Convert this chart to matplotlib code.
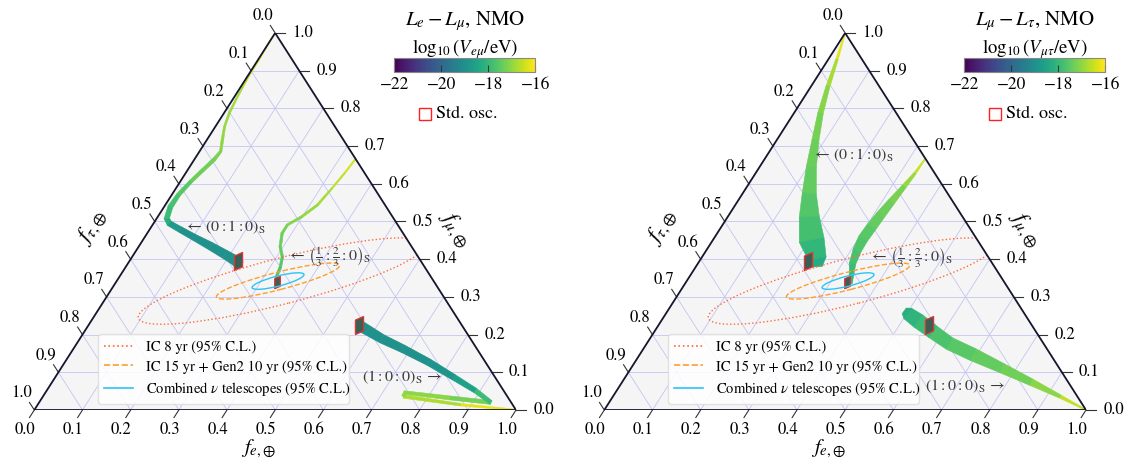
import numpy as np
import matplotlib.pyplot as plt
from matplotlib.collections import PolyCollection
from matplotlib.patches import Ellipse, Polygon
from matplotlib.lines import Line2D
from matplotlib import colors, cm

plt.rcParams['font.family'] = 'STIXGeneral'
plt.rcParams['mathtext.fontset'] = 'stix'

W, H = 1126, 461
R3 = np.sqrt(3) / 2
SX, SY = 481.7, 377 / R3   # px per cartesian unit

# ---- data (flavor fractions f_e, f_mu; colour = log10 V; band width in px) ----
ticks = np.round(np.arange(0, 1.01, 0.1), 1)

# L_e - L_mu panel
le_a_fe = [0.0, 0.0, 0.002, 0.002, 0.004, 0.007, 0.011, 0.019, 0.032, 0.044, 0.041, 0.032, 0.022, 0.014, 0.013, 0.021, 0.033, 0.063, 0.103, 0.148, 0.189, 0.220, 0.234]
le_a_fmu = [1.0, 0.965, 0.930, 0.894, 0.859, 0.823, 0.788, 0.752, 0.717, 0.686, 0.664, 0.637, 0.606, 0.571, 0.539, 0.508, 0.495, 0.479, 0.458, 0.435, 0.413, 0.396, 0.384]
le_a_v = [-16.0, -16.0, -16.3, -16.5, -16.8, -16.8, -16.9, -17.0, -17.0, -17.1, -17.3, -17.3, -17.4, -17.7, -17.8, -18.0, -18.5, -19.0, -19.0, -19.0, -19.0, -19.0, -19.0]
le_a_w = [1.2, 1.2, 1.2, 1.3, 1.5, 1.7, 2.0, 2.0, 2.5, 2.5, 3.5, 3.5, 3.5, 4.0, 5.0, 5.0, 5.5, 6.0, 6.5, 8.0, 9.0, 10.0, 10.0]

le_b_fe = [0.334, 0.330, 0.324, 0.316, 0.299, 0.280, 0.280, 0.294, 0.312, 0.321, 0.326, 0.335]
le_b_fmu = [0.666, 0.628, 0.588, 0.544, 0.513, 0.491, 0.469, 0.433, 0.406, 0.380, 0.353, 0.340]
le_b_v = [-16.3, -16.5, -16.7, -16.9, -17.0, -17.2, -17.3, -17.4, -17.5, -17.6, -17.7, -17.8]
le_b_w = [1.5, 1.5, 1.5, 2.2, 2.2, 2.2, 2.5, 2.5, 2.5, 2.5, 2.5, 2.5]

le_c_fe = [1.0, 0.878, 0.748, 0.747, 0.847, 0.938, 0.889, 0.827, 0.755, 0.685, 0.627, 0.587, 0.561]
le_c_fmu = [0.0, 0.014, 0.036, 0.046, 0.032, 0.020, 0.052, 0.087, 0.127, 0.162, 0.189, 0.211, 0.225]
le_c_v = [-16.0, -16.5, -17.0, -17.0, -17.1, -17.4, -18.4, -18.8, -19.0, -19.0, -19.0, -19.0, -19.0]
le_c_w = [1.5, 2.5, 3.5, 3.5, 4.0, 4.0, 5.0, 6.0, 7.0, 8.0, 9.0, 10.0, 11.0]

# L_mu - L_tau panel
lt_a_fe = [0.0, 0.018, 0.035, 0.055, 0.080, 0.107, 0.138, 0.169, 0.205, 0.241, 0.253]
lt_a_fmu = [1.0, 0.930, 0.859, 0.788, 0.717, 0.646, 0.575, 0.513, 0.451, 0.402, 0.380]
lt_a_v = [-16.0, -16.6, -17.0, -17.2, -17.3, -17.4, -17.5, -17.7, -17.9, -18.2, -18.4]
lt_a_w = [1.0, 2.5, 4.0, 5.5, 7.0, 10.0, 14.0, 20.0, 25.0, 18.0, 9.0]

lt_b_fe = [0.333, 0.331, 0.326, 0.320, 0.315, 0.312, 0.310, 0.313, 0.321, 0.334, 0.344]
lt_b_fmu = [0.667, 0.628, 0.593, 0.553, 0.517, 0.486, 0.455, 0.424, 0.389, 0.358, 0.335]
lt_b_v = [-16.2, -16.8, -17.1, -17.3, -17.4, -17.5, -17.6, -17.7, -17.8, -18.0, -18.2]
lt_b_w = [1.0, 2.5, 4.5, 7.0, 9.0, 10.0, 10.0, 8.5, 6.5, 4.5, 3.0]

lt_c_fe = [1.0, 0.928, 0.849, 0.770, 0.692, 0.629, 0.579, 0.534, 0.502, 0.491]
lt_c_fmu = [0.0, 0.036, 0.074, 0.111, 0.147, 0.176, 0.207, 0.236, 0.256, 0.263]
lt_c_v = [-16.2, -16.9, -17.2, -17.4, -17.5, -17.6, -17.8, -18.0, -18.2, -18.3]
lt_c_w = [1.0, 3.5, 7.0, 10.0, 13.0, 13.0, 14.0, 15.0, 13.0, 7.0]

# standard-oscillation points
std_fe = [0.225, 0.334, 0.562]
std_fmu = [0.396, 0.340, 0.225]
std_size = [13, 9, 13]

# 95% C.L. contours: centre (f_e, f_mu), full width / height (cartesian units), angle
cl_labels = ['IC 8 yr (95% C.L.)', 'IC 15 yr + Gen2 10 yr (95% C.L.)', r'Combined $\nu$ telescopes (95% C.L.)']
cl_fe = [0.343, 0.335, 0.335]
cl_fmu = [0.342, 0.342, 0.342]
cl_width = [0.62, 0.266, 0.112]
cl_height = [0.105, 0.040, 0.023]
cl_angle = [16, 16, 16]
cl_colors = ['#ff6a3d', '#ff9d2e', '#2ec4f5']
cl_styles = [':', '--', '-']

norm = colors.Normalize(-22, -16)
cmap = plt.get_cmap('viridis')

# parallelogram marker for the std. osc. regions
std_marker = [(-0.45, -1.0), (0.45, -0.6), (0.45, 1.0), (-0.45, 0.6), (-0.45, -1.0)]


def cart(fe, fmu):
    fe = np.asarray(fe, float)
    fmu = np.asarray(fmu, float)
    return fe + fmu / 2, fmu * R3


def draw_band(ax, fe, fmu, v, w):
    x, y = cart(fe, fmu)
    P = np.column_stack([x * SX, y * SY])
    w = np.asarray(w) / 2
    v = np.asarray(v)
    d = np.diff(P, axis=0)
    n = np.column_stack([-d[:, 1], d[:, 0]])
    n /= np.hypot(n[:, 0], n[:, 1])[:, None]

    def join(i, j):
        # normal at the shared vertex of segments i and j (miter)
        if j < 0 or j >= len(n) or np.dot(n[i], n[j]) <= 0.2:
            return n[i]
        m = n[i] + n[j]
        m /= np.hypot(*m)
        return m / max(np.dot(m, n[i]), 0.5)

    polys = []
    for i in range(len(d)):
        a = join(i, i - 1)
        b = join(i, i + 1)
        q = np.array([P[i] + a * w[i], P[i + 1] + b * w[i + 1],
                      P[i + 1] - b * w[i + 1], P[i] - a * w[i]])
        q[:, 0] /= SX
        q[:, 1] /= SY
        polys.append(q)
    c = cmap(norm((v[:-1] + v[1:]) / 2))
    pc = PolyCollection(polys, facecolors=c, edgecolors=c, linewidths=0.4, zorder=4)
    ax.add_collection(pc)


def panel(x0, bands, title, cblabel, texts):
    ax = fig.add_axes([x0 / W, (H - 410) / H, 481.7 / W, 377 / H])
    ax.set_xlim(0, 1)
    ax.set_ylim(0, R3)
    ax.axis('off')

    tri = Polygon([[0, 0], [1, 0], [0.5, R3]], closed=True, fc='#f5f5f5', ec='none', zorder=0)
    ax.add_patch(tri)

    # grid
    for t in ticks[1:-1]:
        for fe_, fmu_ in (([t, t], [0, 1 - t]), ([0, 1 - t], [t, t]), ([0, 1 - t], [1 - t, 0])):
            x, y = cart(fe_, fmu_)
            ax.plot(x, y, color='#c4c4f4', lw=0.6, zorder=1)

    for b in bands:
        draw_band(ax, *b)

    sx, sy = cart(std_fe, std_fmu)
    for i in range(len(sx)):
        ax.plot(sx[i], sy[i], ls='none', marker=std_marker, ms=std_size[i], mfc='#3b5f55',
                mec='#e83030', mew=0.9, zorder=5)

    for i in range(3):
        cx, cy = cart(cl_fe[i], cl_fmu[i])
        e = Ellipse((cx, cy), cl_width[i], cl_height[i], angle=cl_angle[i],
                    fc='none', ec=cl_colors[i], ls=cl_styles[i], lw=1.0, zorder=6)
        ax.add_patch(e)
        e.set_clip_path(tri)

    edge = Polygon([[0, 0], [1, 0], [0.5, R3]], closed=True, fc='none', ec='#15152e', lw=1.3, zorder=7)
    ax.add_patch(edge)

    L = 0.02
    for t in ticks:
        # f_e (bottom)
        ax.plot([t, t - 0.5 * L], [0, -R3 * L], color='#333333', lw=0.8, clip_on=False)
        ax.text(t - 0.019, -0.046, f'{t:.1f}', ha='center', va='center', fontsize=12)
        # f_mu (right)
        x, y = cart(1 - t, t)
        ax.plot([x, x + L], [y, y], color='#333333', lw=0.8, clip_on=False)
        ax.text(x + 0.057, y, f'{t:.1f}', ha='center', va='center', fontsize=12)
        # f_tau (left)
        x, y = cart(0, 1 - t)
        ax.plot([x, x - 0.5 * L], [y, y + R3 * L], color='#333333', lw=0.8, clip_on=False)
        ax.text(x - 0.026, y + 0.038, f'{t:.1f}', ha='center', va='center', fontsize=12)

    ax.text(0.465, -0.114, r'$f_{e,\!\oplus}$', ha='center', va='bottom', fontsize=15)
    ax.text(0.873, 0.415, r'$f_{\mu,\!\oplus}$', ha='center', va='center', fontsize=16.5, rotation=-58)
    ax.text(0.12, 0.42, r'$f_{\tau,\!\oplus}$', ha='center', va='center', fontsize=16.5, rotation=58)

    for (tx, ty, s) in texts:
        ax.text(tx, ty, s, transform=ax.transAxes, ha='center', va='center',
                fontsize=11.5, color='#3a3a3a', zorder=8)

    handles = [Line2D([], [], color=cl_colors[i], ls=cl_styles[i], lw=1.2) for i in range(3)]
    ax.legend(handles, cl_labels, loc='lower left', bbox_to_anchor=(0.132, 0.016, 0.521, 0.196),
              mode='expand', borderaxespad=0, fontsize=10.5, handlelength=2.0, handletextpad=0.9,
              labelspacing=0.45, framealpha=0.85, edgecolor='#dddddd')

    # title, colour bar, std. osc. key
    fig.text((x0 + 430.7) / W, 1 - 21 / H, title, ha='center', va='center', fontsize=15)
    cax = fig.add_axes([(x0 + 360) / W, (H - 72) / H, 141 / W, 13.5 / H])
    cb = fig.colorbar(cm.ScalarMappable(norm=norm, cmap='viridis'), cax=cax,
                      orientation='horizontal', ticks=[-22, -20, -18, -16])
    cb.set_label(cblabel, fontsize=13.5, labelpad=4)
    cax.xaxis.set_label_position('top')
    cax.tick_params(direction='in', length=5, width=0.8, labelsize=12.5, color='#333333')
    cb.outline.set_edgecolor('#888888')
    ax.plot([(x0 + 391) / W], [1 - 114 / H], transform=fig.transFigure, marker='s', ms=8,
            mfc='none', mec='#ff2020', mew=1.0, clip_on=False)
    fig.text((x0 + 402) / W, 1 - 114 / H, 'Std. osc.', ha='left', va='center', fontsize=13)
    return ax


fig = plt.figure(figsize=(W / 100, H / 100), dpi=100)

panel(34.3,
      [(le_a_fe, le_a_fmu, le_a_v, le_a_w), (le_b_fe, le_b_fmu, le_b_v, le_b_w),
       (le_c_fe, le_c_fmu, le_c_v, le_c_w)],
      r'$L_e - L_\mu$, NMO', r'$\log_{10}(V_{e\mu}/\mathrm{eV})$',
      [(0.396, 0.485, r'$\leftarrow\,(0:1:0)_\mathrm{S}$'),
       (0.612, 0.406, r'$\leftarrow\,\left(\frac{1}{3}:\frac{2}{3}:0\right)_\mathrm{S}$'),
       (0.763, 0.0875, r'$(1:0:0)_\mathrm{S}\,\rightarrow$')])

panel(604.3,
      [(lt_a_fe, lt_a_fmu, lt_a_v, lt_a_w), (lt_b_fe, lt_b_fmu, lt_b_v, lt_b_w),
       (lt_c_fe, lt_c_fmu, lt_c_v, lt_c_w)],
      r'$L_\mu - L_\tau$, NMO', r'$\log_{10}(V_{\mu\tau}/\mathrm{eV})$',
      [(0.516, 0.676, r'$\leftarrow\,(0:1:0)_\mathrm{S}$'),
       (0.638, 0.403, r'$\leftarrow\,\left(\frac{1}{3}:\frac{2}{3}:0\right)_\mathrm{S}$'),
       (0.748, 0.064, r'$(1:0:0)_\mathrm{S}\,\rightarrow$')])

fig.savefig('out.png', dpi=100)
